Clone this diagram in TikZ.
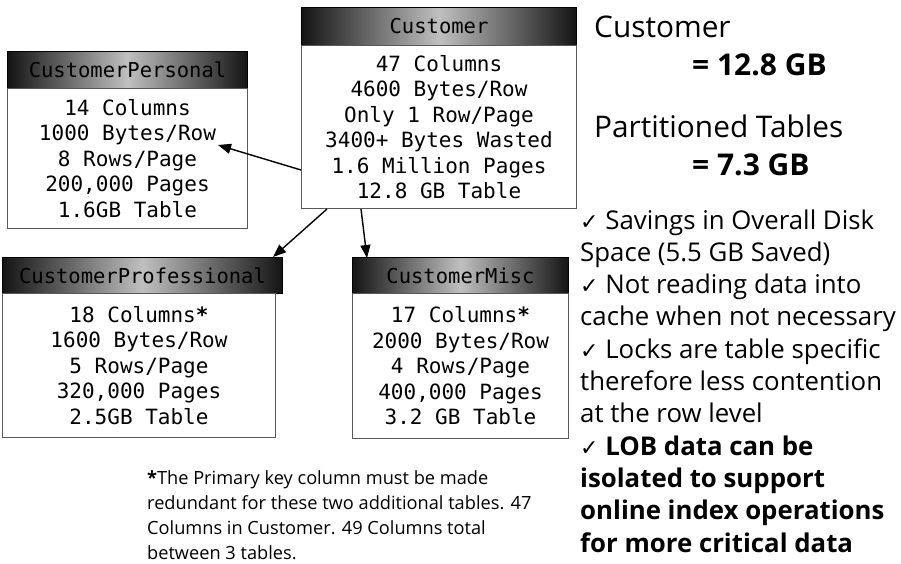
\documentclass[tikz,border=0pt]{standalone}
\usepackage{fontspec}
\setmainfont{Open Sans}
\newfontfamily\monofont{DejaVu Sans Mono}
\newfontfamily\checkfont{DejaVu Sans}
\usetikzlibrary{arrows.meta,calc}
\newcommand{\chk}{{\checkfont\fontsize{22}{22}\selectfont\mdseries ✓}}
\begin{document}
\begin{tikzpicture}[x=1pt,y=-1pt,
  hdr/.style={draw=black, line width=1pt, anchor=north west, inner sep=0pt,
    left color=black!92, right color=black!92, middle color=black!25,
    font=\monofont\fontsize{20.5}{24}\selectfont},
  tbody/.style={draw=black!65, line width=1pt, anchor=north west, inner sep=0pt, fill=white,
    align=center, font=\monofont\fontsize{21}{25.5}\selectfont},
  conn/.style={-{Triangle[length=13pt,width=10pt]}, line width=1.4pt},
  big/.style={anchor=base west, inner sep=0pt, font=\fontsize{29.8}{34}\selectfont},
  bigb/.style={anchor=base west, inner sep=0pt, font=\fontsize{30}{34}\selectfont\bfseries},
  lst/.style={anchor=base west, inner sep=0pt, font=\fontsize{25.8}{30}\selectfont},
  note/.style={anchor=base west, inner sep=0pt, font=\fontsize{18.2}{22}\selectfont}
]
\fill[white] (0,0) rectangle (901,563);
\useasboundingbox (0,0) rectangle (901,563);

% Customer
\node[hdr, minimum width=275pt, minimum height=38pt] (custhead) at (301,7) {Customer};
\node[tbody, minimum width=275pt, minimum height=163pt] (custbody) at (301,45)
  {47 Columns\\4600 Bytes/Row\\Only 1 Row/Page\\3400+ Bytes Wasted\\1.6 Million Pages\\12.8 GB Table};

% CustomerPersonal
\node[hdr, minimum width=240pt, minimum height=37pt] (pershead) at (7,51) {CustomerPersonal};
\node[tbody, minimum width=240pt, minimum height=140pt] (persbody) at (7,88)
  {14 Columns\\1000 Bytes/Row\\8 Rows/Page\\200,000 Pages\\1.6GB Table};

% CustomerProfessional
\node[hdr, minimum width=280pt, minimum height=36pt] (profhead) at (2,257) {CustomerProfessional};
\node[tbody, minimum width=273pt, minimum height=144pt] (profbody) at (2,293)
  {18 Columns\textbf{*}\\1600 Bytes/Row\\5 Rows/Page\\320,000 Pages\\2.5GB Table};

% CustomerMisc
\node[hdr, minimum width=216pt, minimum height=36pt] (mischead) at (352,257) {CustomerMisc};
\node[tbody, minimum width=216pt, minimum height=145pt] (miscbody) at (352,293)
  {17 Columns\textbf{*}\\2000 Bytes/Row\\4 Rows/Page\\400,000 Pages\\3.2 GB Table};

% connectors
\draw[conn] ($(custbody.north west)+(0,125)$) -- ($(persbody.north east)+(-30,57)$);
\draw[conn] ($(custbody.south west)+(26,0)$) -- ($(profhead.north east)+(-10,0)$);
\draw[conn] ($(custbody.south west)+(60,0)$) -- ($(mischead.north west)+(15,1)$);

% right side summary
\node[big] (s1) at (594,37) {Customer};
\node[bigb] (s2) at (692,75) {= 12.8 GB};
\node[big] (s3) at (594,137) {Partitioned Tables};
\node[bigb] (s4) at (692,175) {= 7.3 GB};

\node[lst] (l1) at (580,229) {\chk{} Savings in Overall Disk};
\node[lst] (l2) at (580,261.3) {Space (5.5 GB Saved)};
\node[lst] (l3) at (580,293.6) {\chk{} Not reading data into};
\node[lst] (l4) at (580,325.9) {cache when not necessary};
\node[lst] (l5) at (580,358.2) {\chk{} Locks are table specific};
\node[lst] (l6) at (580,390.5) {therefore less contention};
\node[lst] (l7) at (580,422.8) {at the row level};
\node[lst] (l8) at (580,455.1) {\chk{} \textbf{LOB data can be}};
\node[lst] (l9) at (580,487.4) {\textbf{isolated to support}};
\node[lst] (l10) at (580,519.7) {\textbf{online index operations}};
\node[lst] (l11) at (580,552) {\textbf{for more critical data}};

% footnote
\node[note] (n1) at (147,484) {\textbf{*}The Primary key column must be made};
\node[note] (n2) at (147,509) {redundant for these two additional tables. 47};
\node[note] (n3) at (147,534) {Columns in Customer. 49 Columns total};
\node[note] (n4) at (147,559) {between 3 tables.};
\end{tikzpicture}
\end{document}
